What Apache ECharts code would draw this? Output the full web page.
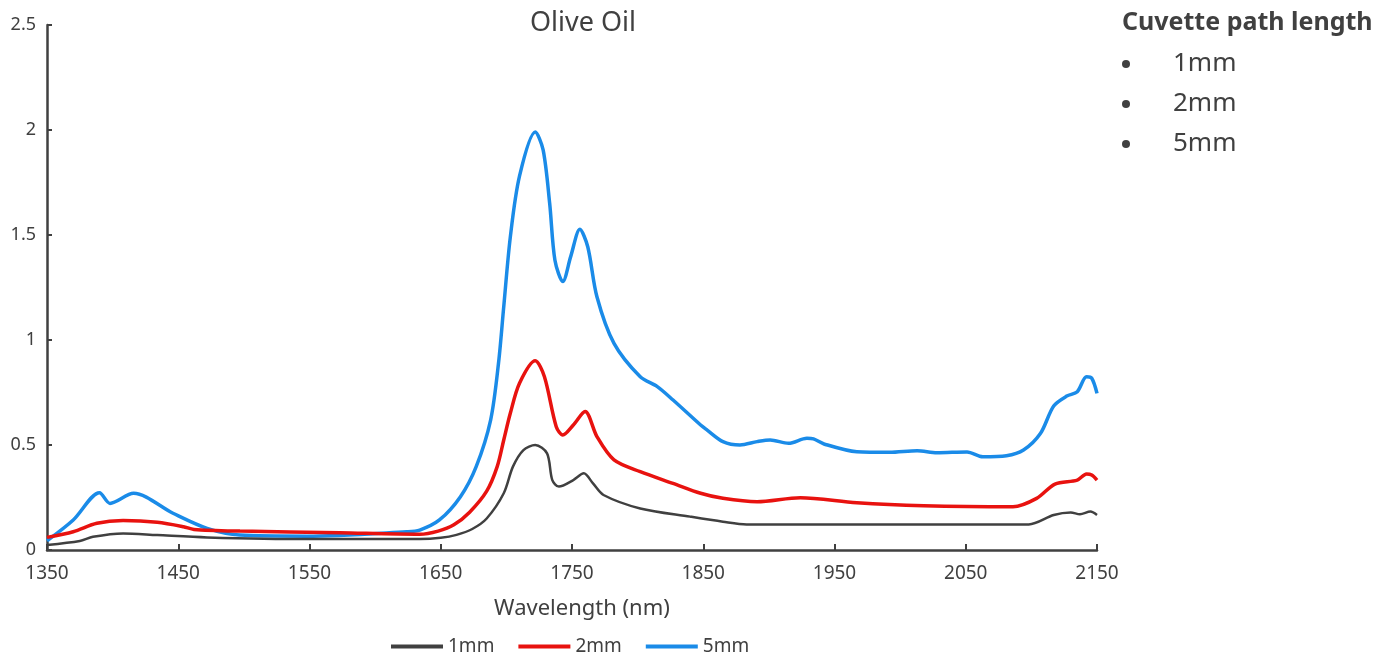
<!DOCTYPE html>
<html>
<head>
<meta charset="utf-8">
<script src="https://cdn.jsdelivr.net/npm/echarts@6/dist/echarts.min.js"></script>
<style>
  html, body { margin: 0; padding: 0; background: #fff; }
  #main { width: 1394px; height: 657px; }
</style>
</head>
<body>
<div id="main"></div>
<script>
// 波长 / 吸光度 数据
var wl1 = [1350, 1375, 1385, 1408, 1434, 1472, 1548, 1634, 1650, 1662, 1674, 1685, 1698, 1705, 1713, 1722, 1731, 1735, 1740, 1751, 1759, 1766, 1774, 1802, 1840, 1865, 1883, 2098, 2117, 2130, 2137, 2145, 2150];
var abs1 = [0.024, 0.043, 0.063, 0.079, 0.071, 0.060, 0.052, 0.052, 0.058, 0.072, 0.100, 0.150, 0.270, 0.397, 0.476, 0.500, 0.460, 0.333, 0.302, 0.333, 0.365, 0.317, 0.262, 0.198, 0.159, 0.135, 0.122, 0.122, 0.167, 0.179, 0.170, 0.183, 0.167];

var wl2 = [1350, 1370, 1388, 1408, 1434, 1454, 1462, 1497, 1573, 1634, 1648, 1660, 1672, 1685, 1693, 1698, 1703, 1710, 1722, 1729, 1738, 1743, 1751, 1760, 1769, 1782, 1802, 1827, 1848, 1865, 1891, 1924, 1967, 2018, 2086, 2104, 2118, 2135, 2142, 2146, 2150];
var abs2 = [0.060, 0.087, 0.127, 0.140, 0.132, 0.111, 0.098, 0.090, 0.082, 0.075, 0.090, 0.120, 0.180, 0.280, 0.397, 0.524, 0.651, 0.794, 0.901, 0.825, 0.587, 0.548, 0.595, 0.659, 0.540, 0.429, 0.373, 0.317, 0.270, 0.246, 0.230, 0.249, 0.225, 0.211, 0.206, 0.246, 0.314, 0.333, 0.362, 0.357, 0.333];

var wl5 = [1350, 1370, 1390, 1398, 1416, 1446, 1472, 1497, 1548, 1624, 1634, 1649, 1665, 1677, 1688, 1694, 1698, 1703, 1710, 1722, 1728, 1733, 1737, 1743, 1749, 1756, 1762, 1769, 1782, 1802, 1815, 1827, 1848, 1853, 1865, 1878, 1891, 1901, 1915, 1929, 1934, 1942, 1967, 1992, 2013, 2028, 2051, 2063, 2081, 2094, 2107, 2117, 2127, 2135, 2142, 2146, 2150];
var abs5 = [0.044, 0.143, 0.273, 0.222, 0.270, 0.175, 0.103, 0.071, 0.066, 0.087, 0.095, 0.143, 0.254, 0.397, 0.619, 0.889, 1.159, 1.490, 1.780, 1.990, 1.905, 1.650, 1.380, 1.278, 1.397, 1.527, 1.444, 1.206, 0.984, 0.825, 0.778, 0.714, 0.595, 0.571, 0.516, 0.500, 0.516, 0.524, 0.508, 0.532, 0.529, 0.505, 0.468, 0.465, 0.473, 0.463, 0.467, 0.444, 0.449, 0.476, 0.556, 0.686, 0.733, 0.754, 0.825, 0.818, 0.746];

var seriesNames = ['1mm', '2mm', '5mm'];
var seriesColors = ['#404040', '#e8120f', '#1a8be8'];

function pairs(xs, ys) {
  return xs.map(function (x, i) { return [x, ys[i]]; });
}

var myChart = echarts.init(document.getElementById('main'));
var font = 'Noto Sans';

myChart.setOption({
  animation: false,
  textStyle: { fontFamily: font },
  title: [
    {
      text: 'Olive Oil',
      left: 578, top: 5,
      textAlign: 'center',
      textStyle: { fontSize: 27, fontWeight: 'normal', color: '#404040', fontFamily: font }
    },
    {
      text: 'Cuvette path length',
      left: 1117, top: 5,
      textStyle: { fontSize: 25, fontWeight: 'bold', color: '#404040', fontFamily: font }
    }
  ],
  legend: [
    {
      data: seriesNames,
      top: 632,
      left: 386,
      icon: 'rect',
      itemWidth: 52,
      itemHeight: 4,
      itemGap: 24,
      textStyle: { fontSize: 19, color: '#404040', fontFamily: font }
    },
    {
      data: seriesNames,
      orient: 'vertical',
      left: 1117, top: 44,
      icon: 'circle',
      itemWidth: 8,
      itemHeight: 8,
      itemGap: 10,
      itemStyle: { color: '#404040' },
      textStyle: { fontSize: 26, color: '#404040', fontFamily: font, padding: [0, 0, 0, 38], lineHeight: 30 }
    }
  ],
  grid: { left: 47, right: 297, top: 25, bottom: 107, containLabel: false },
  xAxis: {
    type: 'value',
    min: 1350, max: 2150, interval: 100,
    name: 'Wavelength (nm)',
    nameLocation: 'middle',
    nameGap: 48,
    nameTextStyle: { fontSize: 22, color: '#404040', fontFamily: font, padding: [0, 0, 0, 20] },
    axisLine: { lineStyle: { color: '#404040', width: 2.5 } },
    axisTick: { inside: true, length: 6, lineStyle: { color: '#404040', width: 2 } },
    axisLabel: { fontSize: 19, color: '#404040', margin: 14, fontFamily: font, formatter: function (v) { return String(v); } },
    splitLine: { show: false }
  },
  yAxis: {
    type: 'value',
    min: 0, max: 2.5, interval: 0.5,
    axisLine: { show: true, lineStyle: { color: '#404040', width: 2.5 } },
    axisTick: { show: true, inside: true, length: 5, lineStyle: { color: '#404040', width: 2 } },
    axisLabel: { fontSize: 18, color: '#404040', margin: 11, fontFamily: font },
    splitLine: { show: false }
  },
  series: [
    {
      name: seriesNames[0], type: 'line', smooth: 0.3, showSymbol: false,
      data: pairs(wl1, abs1),
      itemStyle: { color: seriesColors[0] },
      lineStyle: { color: seriesColors[0], width: 2.5 }, z: 3
    },
    {
      name: seriesNames[1], type: 'line', smooth: 0.3, showSymbol: false,
      data: pairs(wl2, abs2),
      itemStyle: { color: seriesColors[1] },
      lineStyle: { color: seriesColors[1], width: 3.5 }, z: 2
    },
    {
      name: seriesNames[2], type: 'line', smooth: 0.3, showSymbol: false,
      data: pairs(wl5, abs5),
      itemStyle: { color: seriesColors[2] },
      lineStyle: { color: seriesColors[2], width: 3.5 }, z: 1
    }
  ]
});
</script>
</body>
</html>
